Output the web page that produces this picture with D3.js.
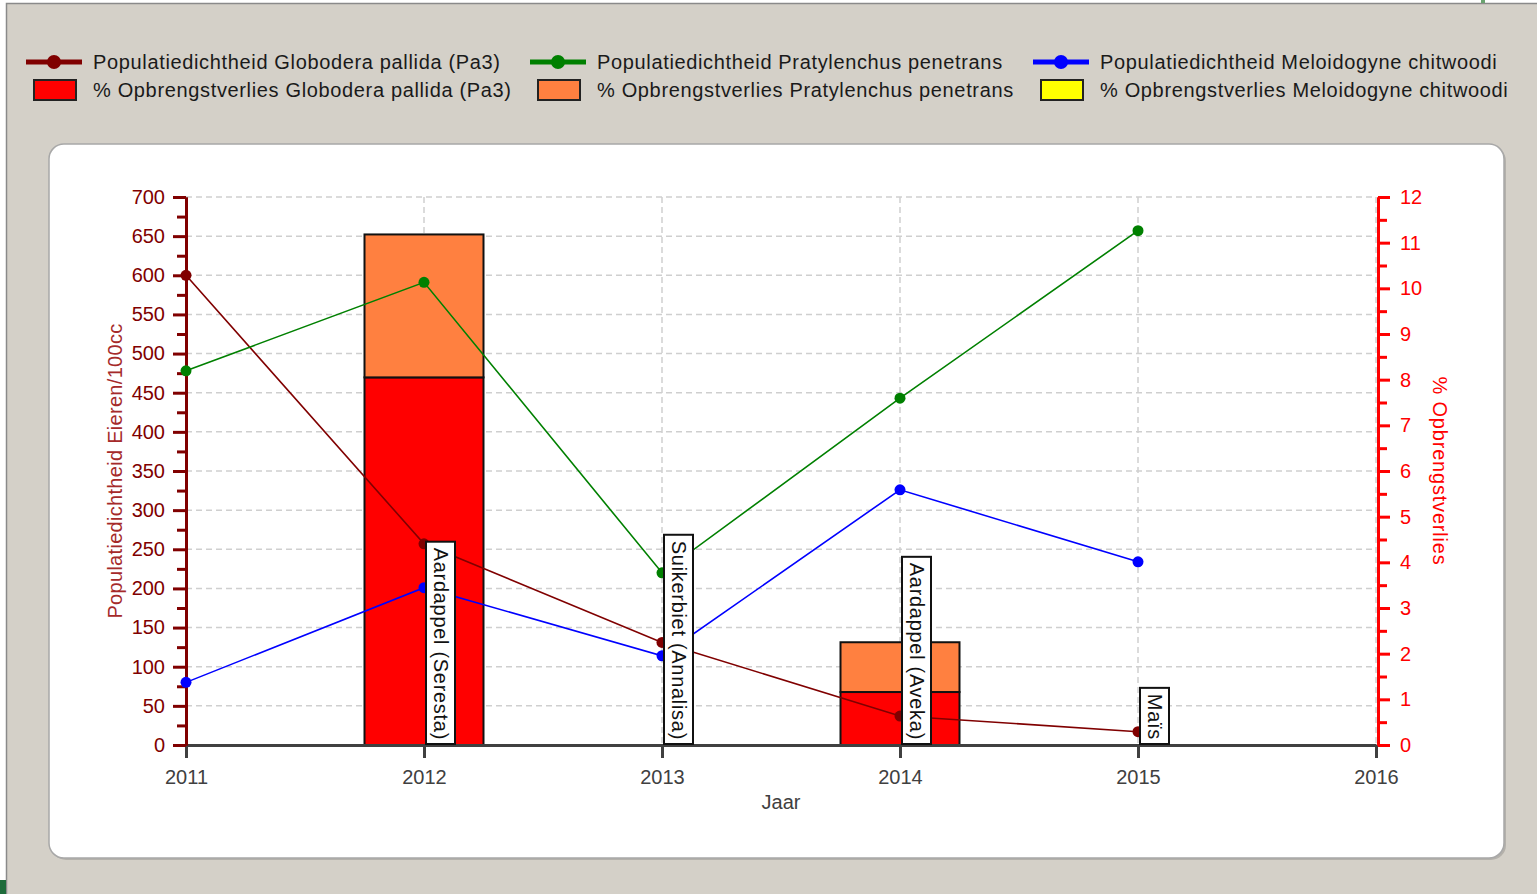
<!DOCTYPE html>
<html>
<head>
<meta charset="utf-8">
<script src="https://cdn.jsdelivr.net/npm/d3@7"></script>
<style>
  body { margin: 0; background: #ffffff; }
  svg { display: block; font-family: "Liberation Sans", Arial, sans-serif; }
</style>
</head>
<body>
<div id="chart"></div>
<script>
// years on the x axis
var years = [2011, 2012, 2013, 2014, 2015];
var xTicks = [2011, 2012, 2013, 2014, 2015, 2016];

// population density (eggs / 100cc), left axis
var pallidaDens = [600, 257, 131, 37, 17];
var penetransDens = [478, 591, 220, 443, 657];
var chitwoodiDens = [80, 201, 114, 326, 234];

// % yield loss, right axis (stacked bars)
var barYears = [2012, 2014];
var pallidaLoss = [8.05, 1.16];
var penetransLoss = [3.13, 1.09];
var chitwoodiLoss = [0, 0];

// crop labels
var cropYears = [2012, 2013, 2014, 2015];
var cropLabels = ["Aardappel (Seresta)", "Suikerbiet (Annalisa)", "Aardappel (Aveka)", "Maïs"];

var legendLines = [
  { name: "Populatiedichtheid Globodera pallida (Pa3)", color: "#800000" },
  { name: "Populatiedichtheid Pratylenchus penetrans", color: "#008000" },
  { name: "Populatiedichtheid Meloidogyne chitwoodi", color: "#0000ff" }
];
var legendBars = [
  { name: "% Opbrengstverlies Globodera pallida (Pa3)", color: "#ff0000" },
  { name: "% Opbrengstverlies Pratylenchus penetrans", color: "#ff8040" },
  { name: "% Opbrengstverlies Meloidogyne chitwoodi", color: "#ffff00" }
];

var W = 1537, H = 894;
var svg = d3.select("#chart").append("svg").attr("width", W).attr("height", H);

// window background
svg.append("rect").attr("x", 6).attr("y", 3).attr("width", W - 6).attr("height", H - 3)
  .attr("fill", "#d4d0c8");
svg.append("path").attr("d", "M6.5," + H + "V3.5H" + W)
  .attr("fill", "none").attr("stroke", "#8a8a8a").attr("stroke-width", 1.5);
svg.append("rect").attr("x", 0).attr("y", 880).attr("width", 6).attr("height", 14).attr("fill", "#1d6b3a");
svg.append("rect").attr("x", 1481).attr("y", 0).attr("width", 4).attr("height", 3).attr("fill", "#6aa36f");

// white chart panel with shadow
svg.append("rect").attr("x", 51).attr("y", 146).attr("width", 1455).attr("height", 714)
  .attr("rx", 15).attr("fill", "#b4b1ab");
svg.append("rect").attr("x", 49).attr("y", 144).attr("width", 1455).attr("height", 714)
  .attr("rx", 15).attr("fill", "#ffffff").attr("stroke", "#a8a8a8").attr("stroke-width", 1.5);

// legend
var legend = svg.append("g");
var colX = [26, 530, 1033];
legendLines.forEach(function (d, i) {
  var g = legend.append("g").attr("transform", "translate(" + colX[i] + ",62)");
  g.append("line").attr("x1", 0).attr("x2", 56).attr("stroke", d.color).attr("stroke-width", 5);
  g.append("circle").attr("cx", 28).attr("r", 7).attr("fill", d.color);
  g.append("text").attr("x", 67).attr("dy", "0.35em").attr("font-size", 20)
    .attr("letter-spacing", 0.65).attr("fill", "#1a1a1a").text(d.name);
});
legendBars.forEach(function (d, i) {
  var g = legend.append("g").attr("transform", "translate(" + colX[i] + ",90)");
  g.append("rect").attr("x", 8).attr("y", -10).attr("width", 42).attr("height", 20)
    .attr("fill", d.color).attr("stroke", "#222").attr("stroke-width", 2);
  g.append("text").attr("x", 67).attr("dy", "0.35em").attr("font-size", 20)
    .attr("letter-spacing", 0.65).attr("fill", "#1a1a1a").text(d.name);
});

// scales
var x = d3.scaleLinear().domain([2011, 2016]).range([186, 1376]);
var yL = d3.scaleLinear().domain([0, 700]).range([745, 197]);
var yR = d3.scaleLinear().domain([0, 12]).range([745, 197]);

// grid
var grid = svg.append("g").attr("stroke", "#cfcfcf").attr("stroke-width", 1.5)
  .attr("stroke-dasharray", "6,4");
grid.selectAll(".h").data(d3.range(50, 701, 50)).enter().append("line")
  .attr("x1", x(2011)).attr("x2", x(2016))
  .attr("y1", function (d) { return yL(d); }).attr("y2", function (d) { return yL(d); });
grid.selectAll(".v").data(xTicks.slice(1)).enter().append("line")
  .attr("x1", function (d) { return x(d); }).attr("x2", function (d) { return x(d); })
  .attr("y1", yL(700)).attr("y2", yL(0));

// stacked bars
var barW = x(2011.5) - x(2011);
var stackData = barYears.map(function (yr, i) {
  return { year: yr, pallida: pallidaLoss[i], penetrans: penetransLoss[i], chitwoodi: chitwoodiLoss[i] };
});
var stack = d3.stack().keys(["pallida", "penetrans", "chitwoodi"]);
var barColors = { pallida: "#ff0000", penetrans: "#ff8040", chitwoodi: "#ffff00" };
var layers = svg.append("g").selectAll("g").data(stack(stackData)).enter().append("g")
  .attr("fill", function (d) { return barColors[d.key]; });
layers.selectAll("rect")
  .data(function (d) { return d.filter(function (s) { return s[1] - s[0] > 0; }); })
  .enter().append("rect")
  .attr("x", function (d) { return x(d.data.year) - barW / 2; })
  .attr("width", barW)
  .attr("y", function (d) { return yR(d[1]); })
  .attr("height", function (d) { return yR(d[0]) - yR(d[1]); })
  .attr("stroke", "#111").attr("stroke-width", 2);

// x axis
var xAxis = svg.append("g").attr("transform", "translate(0," + yL(0) + ")")
  .call(d3.axisBottom(x).tickValues(xTicks).tickFormat(d3.format("d"))
    .tickSize(13).tickSizeOuter(0).tickPadding(12));
xAxis.select(".domain").attr("stroke", "#404040").attr("stroke-width", 3);
xAxis.selectAll(".tick line").attr("stroke", "#404040").attr("stroke-width", 3);
xAxis.selectAll("text").attr("font-size", 20).attr("fill", "#404040")
  .attr("font-family", "Liberation Sans, Arial, sans-serif");
svg.append("text").attr("x", (x(2011) + x(2016)) / 2).attr("y", 802).attr("dy", "0.35em")
  .attr("text-anchor", "middle").attr("font-size", 20).attr("fill", "#404040").text("Jaar");

// left axis
var leftMinor = svg.append("g").attr("transform", "translate(" + x(2011) + ",0)")
  .call(d3.axisLeft(yL).tickValues(d3.range(25, 700, 50)).tickSize(9).tickSizeOuter(0).tickFormat(""));
var leftAxis = svg.append("g").attr("transform", "translate(" + x(2011) + ",0)")
  .call(d3.axisLeft(yL).tickValues(d3.range(0, 701, 50)).tickSize(13).tickSizeOuter(0).tickPadding(8));
[leftMinor, leftAxis].forEach(function (a) {
  a.select(".domain").attr("stroke", "#800000").attr("stroke-width", 3);
  a.selectAll(".tick line").attr("stroke", "#800000").attr("stroke-width", 3);
});
leftAxis.selectAll("text").attr("font-size", 20).attr("fill", "#800000")
  .attr("font-family", "Liberation Sans, Arial, sans-serif");
svg.append("text").attr("transform", "translate(115," + yL(350) + ") rotate(-90)")
  .attr("text-anchor", "middle").attr("dy", "0.35em").attr("font-size", 20)
  .attr("letter-spacing", 0.3).attr("fill", "#a52a2a").text("Populatiedichtheid Eieren/100cc");

// right axis
var rightMinor = svg.append("g").attr("transform", "translate(1378,0)")
  .call(d3.axisRight(yR).tickValues(d3.range(0.5, 12, 1)).tickSize(9).tickSizeOuter(0).tickFormat(""));
var rightAxis = svg.append("g").attr("transform", "translate(1378,0)")
  .call(d3.axisRight(yR).tickValues(d3.range(0, 13, 1)).tickSize(12).tickSizeOuter(0).tickPadding(10));
[rightMinor, rightAxis].forEach(function (a) {
  a.select(".domain").attr("stroke", "#ff0000").attr("stroke-width", 3);
  a.selectAll(".tick line").attr("stroke", "#ff0000").attr("stroke-width", 3);
});
rightAxis.selectAll("text").attr("font-size", 20).attr("fill", "#ff0000")
  .attr("font-family", "Liberation Sans, Arial, sans-serif");
svg.append("text").attr("transform", "translate(1440," + yR(6) + ") rotate(90)")
  .attr("text-anchor", "middle").attr("dy", "0.35em").attr("font-size", 20)
  .attr("letter-spacing", 0.8).attr("fill", "#ff0000").text("% Opbrengstverlies");

// density lines
var series = [
  { values: pallidaDens, color: "#800000" },
  { values: penetransDens, color: "#008000" },
  { values: chitwoodiDens, color: "#0000ff" }
];
var line = d3.line()
  .x(function (d) { return x(d[0]); })
  .y(function (d) { return yL(d[1]); });
series.forEach(function (s) {
  var pts = years.map(function (yr, i) { return [yr, s.values[i]]; });
  svg.append("path").datum(pts).attr("d", line)
    .attr("fill", "none").attr("stroke", s.color).attr("stroke-width", 1.6);
  svg.append("g").selectAll("circle").data(pts).enter().append("circle")
    .attr("cx", function (d) { return x(d[0]); })
    .attr("cy", function (d) { return yL(d[1]); })
    .attr("r", 5.5).attr("fill", s.color);
});

// crop labels, vertical, standing on the x axis
var labels = svg.append("g");
cropYears.forEach(function (yr, i) {
  var g = labels.append("g");
  var box = g.append("rect");
  var t = g.append("text").attr("font-size", 20).attr("letter-spacing", 0.7)
    .attr("fill", "#111").attr("dominant-baseline", "central").text(cropLabels[i]);
  var len = t.node().getComputedTextLength();
  var bx = x(yr) + 2, bw = 29, bh = len + 10, by = yL(0) - 1 - bh;
  box.attr("x", bx).attr("y", by).attr("width", bw).attr("height", bh)
    .attr("fill", "#ffffff").attr("stroke", "#111").attr("stroke-width", 2);
  t.attr("transform", "translate(" + (bx + bw / 2) + "," + (by + 6) + ") rotate(90)");
});
</script>
</body>
</html>
